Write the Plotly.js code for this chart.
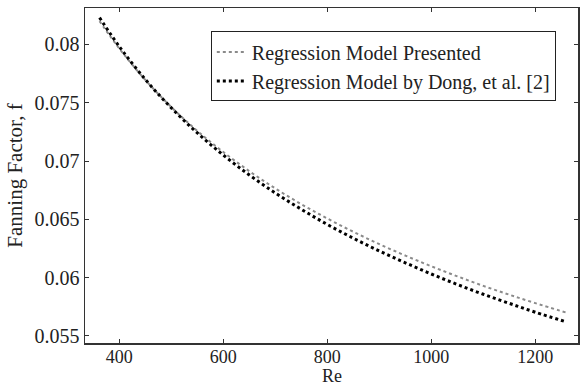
<!DOCTYPE html>
<html>
<head>
<meta charset="utf-8">
<script src="https://cdn.plot.ly/plotly-3.0.1.min.js"></script>
<style>html,body{margin:0;padding:0;background:#fff;}#chart{width:580px;height:387px;}</style>
</head>
<body>
<div id="chart"></div>
<script>
const re = [362, 400, 450, 500, 550, 600, 650, 700, 750, 800, 850, 900, 950, 1000, 1050, 1100, 1150, 1200, 1260];
const fPresented = [0.0820, 0.07965, 0.07696, 0.07463, 0.07258, 0.07077, 0.06913, 0.06765, 0.06630, 0.06507, 0.06393, 0.06287, 0.06189, 0.06097, 0.06011, 0.05929, 0.05853, 0.05781, 0.05699];
const fDong = [0.0823, 0.07982, 0.07700, 0.07456, 0.07241, 0.07051, 0.06880, 0.06726, 0.06586, 0.06456, 0.06338, 0.06228, 0.06127, 0.06031, 0.05941, 0.05857, 0.05779, 0.05703, 0.05619];
const xTicks = [400, 600, 800, 1000, 1200];
const yTicks = [0.055, 0.06, 0.065, 0.07, 0.075, 0.08];
const yTickText = ['0.055', '0.06', '0.065', '0.07', '0.075', '0.08'];
const xTitle = 'Re';
const yTitle = 'Fanning Factor, f';

const fam = 'Liberation Serif, Times New Roman, serif';
const txt = '#222';

const traces = [
  {x: re, y: fPresented, type: 'scatter', mode: 'lines', name: 'Regression Model Presented',
   line: {color: '#8a8a8a', width: 2, dash: 'dot', shape: 'spline'}},
  {x: re, y: fDong, type: 'scatter', mode: 'lines', name: 'Regression Model by Dong, et al. [2]',
   line: {color: '#000', width: 3, dash: 'dot', shape: 'spline'}}
];

const layout = {
  width: 580, height: 387,
  margin: {l: 85, r: 2, t: 8, b: 44},
  paper_bgcolor: '#fff', plot_bgcolor: '#fff',
  font: {family: fam, size: 20, color: txt},
  showlegend: true,
  legend: {x: 0.955, xanchor: 'right', y: 0.93, yanchor: 'top',
           bgcolor: '#fff', bordercolor: '#222', borderwidth: 1,
           font: {family: fam, size: 20, color: txt},
           itemwidth: 30, tracegroupgap: 0},
  xaxis: {range: [334, 1282], tickvals: xTicks, ticks: 'inside', ticklen: 4,
          showline: true, mirror: 'ticks', linecolor: '#333', linewidth: 1.5, tickcolor: '#333',
          showgrid: false, zeroline: false, ticklabelstandoff: -3,
          tickfont: {family: fam, size: 18, color: txt}},
  yaxis: {range: [0.05439, 0.08313], tickvals: yTicks, ticktext: yTickText, ticks: 'inside', ticklen: 4,
          showline: true, mirror: 'ticks', linecolor: '#333', linewidth: 1.5, tickcolor: '#333',
          showgrid: false, zeroline: false,
          tickfont: {family: fam, size: 20, color: txt},
          title: {text: yTitle, standoff: 6, font: {family: fam, size: 21, color: txt}}},
  annotations: [
    {text: xTitle, xref: 'paper', yref: 'paper', x: 0.5, y: -44 / 335, xanchor: 'center', yanchor: 'bottom',
     showarrow: false, borderpad: 0, font: {family: fam, size: 18, color: txt}}
  ]
};

Plotly.newPlot('chart', traces, layout, {staticPlot: true, displayModeBar: false});
</script>
</body>
</html>
